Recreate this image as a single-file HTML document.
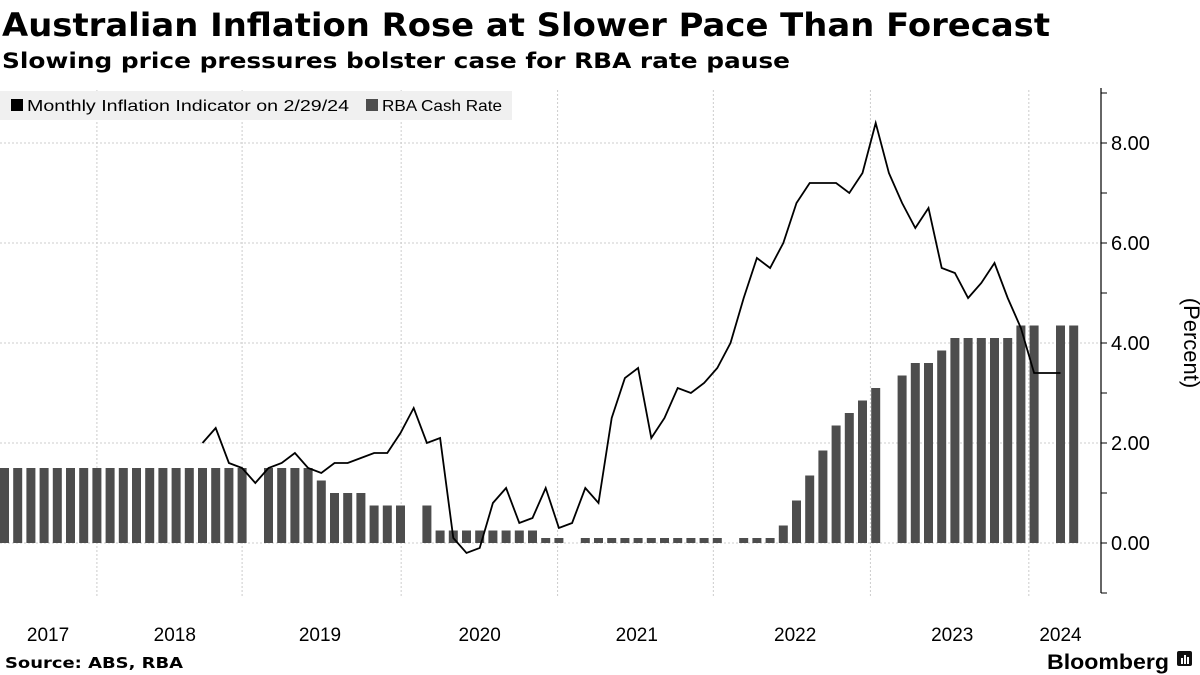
<!DOCTYPE html>
<html><head><meta charset="utf-8"><style>
html,body{margin:0;padding:0;background:#fff;}
svg{display:block;font-family:"DejaVu Sans","Liberation Sans",sans-serif;}
</style></head><body>
<svg id="chart" width="1200" height="675" viewBox="0 0 1200 675" xmlns="http://www.w3.org/2000/svg">
<text x="2" y="36" font-size="32" font-weight="bold" textLength="1048" lengthAdjust="spacingAndGlyphs">Australian Inflation Rose at Slower Pace Than Forecast</text>
<text x="2" y="68" font-size="21" font-weight="bold" textLength="788" lengthAdjust="spacingAndGlyphs">Slowing price pressures bolster case for RBA rate pause</text>
<g id="grid"></g>
<g id="bars"></g>
<g id="lineg"></g>
<g id="yaxis"></g>
<g id="xaxis"></g>
<g>
<rect x="0" y="91" width="512" height="29" fill="#f0f0f0"/>
<g>
<rect x="11" y="99" width="12" height="12" fill="#000"/>
<text x="27" y="111" font-family="Liberation Sans, sans-serif" font-size="16" textLength="322" lengthAdjust="spacingAndGlyphs">Monthly Inflation Indicator on 2/29/24</text></g>
<g>
<rect x="366" y="99" width="12" height="12" fill="#4d4d4d"/>
<text x="382" y="111" font-family="Liberation Sans, sans-serif" font-size="16" textLength="120" lengthAdjust="spacingAndGlyphs">RBA Cash Rate</text></g>
</g>
<text x="5" y="668" font-size="15" font-weight="bold" textLength="178" lengthAdjust="spacingAndGlyphs">Source: ABS, RBA</text>
<text x="1047" y="669" font-family="Liberation Sans, sans-serif" font-size="21" font-weight="bold" textLength="122" lengthAdjust="spacingAndGlyphs">Bloomberg</text>
<g><rect x="1177" y="651" width="15" height="15" rx="2" fill="#111"/><rect x="1181" y="658" width="2" height="6" fill="#fff"/><rect x="1184" y="655" width="2" height="9" fill="#fff"/><rect x="1187" y="657" width="2" height="7" fill="#fff"/></g>
</svg>
<script>
// slot 0 = Jun 2017 ... slot 81 = Mar 2024 (monthly)
const slotLabels = [];
for (let i = 0; i < 82; i++) { const m = (5 + i) % 12, y = 2017 + Math.floor((5 + i) / 12); slotLabels.push(y + '-' + String(m + 1).padStart(2, '0')); }
const cashRate = [1.5,1.5,1.5,1.5,1.5,1.5,1.5,1.5,1.5,1.5,1.5,1.5,1.5,1.5,1.5,1.5,1.5,1.5,1.5,null,
1.5,1.5,1.5,1.5,1.25,1.0,1.0,1.0,0.75,0.75,0.75,null,0.75,0.25,0.25,0.25,0.25,0.25,0.25,0.25,0.25,
0.1,0.1,null,0.1,0.1,0.1,0.1,0.1,0.1,0.1,0.1,0.1,0.1,0.1,null,0.1,0.1,0.1,
0.35,0.85,1.35,1.85,2.35,2.6,2.85,3.1,null,3.35,3.6,3.6,3.85,4.1,4.1,4.1,4.1,4.1,4.35,4.35,null,4.35,4.35];
const inflation = [null,null,null,null,null,null,null,null,null,null,null,null,null,null,null,
2.0,2.3,1.6,1.5,1.2,1.5,1.6,1.8,1.5,1.4,1.6,1.6,1.7,1.8,1.8,2.2,2.7,2.0,2.1,
0.1,-0.2,-0.1,0.8,1.1,0.4,0.5,1.1,0.3,0.4,1.1,0.8,2.5,3.3,3.5,2.1,2.5,3.1,3.0,3.2,3.5,
4.0,4.9,5.7,5.5,6.0,6.8,7.2,7.2,7.2,7.0,7.4,8.4,7.4,6.8,6.3,6.7,5.5,5.4,4.9,5.2,5.6,4.9,4.3,3.4,3.4,3.4,null];
const yTicks = [0,2,4,6,8];
const yTickLabels = ['0.00','2.00','4.00','6.00','8.00'];
const yearLabels = ['2017','2018','2019','2020','2021','2022','2023','2024'];
const yearLabelSlots = [3.3,12.9,23.9,36,47.9,59.9,71.8,80];
const gridSlots = [7,18,30.05,41.9,53.7,65.6,77.6];

const NS = 'http://www.w3.org/2000/svg';
const X = i => 4.5 + i * 13.2;
const Y = v => 543 - v * 50;
function mk(tag, attrs, parent) { const e = document.createElementNS(NS, tag); for (const k in attrs) e.setAttribute(k, attrs[k]); parent.appendChild(e); return e; }
const grid = document.getElementById('grid');
yTicks.forEach(v => {
  const l = mk('line', {x1:0, x2:1101, y1:Y(v), y2:Y(v), stroke:'#cccccc', 'stroke-dasharray':'2,2', 'stroke-width':1}, grid);
  
  
});
gridSlots.forEach(s => {
  const l = mk('line', {x1:X(s), x2:X(s), y1:90, y2:597, stroke:'#cccccc', 'stroke-dasharray':'2,2', 'stroke-width':1}, grid);
  
  
});
const bars = document.getElementById('bars');
cashRate.forEach((v, i) => {
  if (v === null) return;
  const r = mk('rect', {x:X(i) - 4.5, y:Y(v), width:9, height:Y(0) - Y(v), fill:'#4d4d4d'}, bars);
  
  
});
const pts = [];
inflation.forEach((v, i) => { if (v !== null) pts.push(X(i).toFixed(1) + ',' + Y(v).toFixed(1)); });
const pl = mk('polyline', {points:pts.join(' '), fill:'none', stroke:'#000', 'stroke-width':1.8, 'stroke-linejoin':'miter'}, document.getElementById('lineg'));


const ya = document.getElementById('yaxis');
const ax = mk('line', {x1:1101, x2:1101, y1:88, y2:593, stroke:'#000', 'stroke-width':1.2}, ya);


for (let v = -1; v <= 9; v++) {
  const t = mk('line', {x1:1101, x2:1107, y1:Y(v), y2:Y(v), stroke:'#000', 'stroke-width':1}, ya);
  
  
}
yTicks.forEach((v, k) => {
  const t = mk('text', {x:1111, y:Y(v) + 7, 'font-size':20, fill:'#000', 'font-family':'Liberation Sans, sans-serif'}, ya);
  t.textContent = yTickLabels[k];
  
  
});
const yt = mk('text', {x:1184, y:343, 'font-size':22, 'text-anchor':'middle', 'font-family':'Liberation Sans, sans-serif', transform:'rotate(90 1184 343)'}, ya);
yt.textContent = '(Percent)';


const xa = document.getElementById('xaxis');
yearLabels.forEach((lab, k) => {
  const t = mk('text', {x:X(yearLabelSlots[k]), y:641, 'font-size':19, 'text-anchor':'middle', 'font-family':'Liberation Sans, sans-serif'}, xa);
  t.textContent = lab;
  
  
});
</script>
</body></html>
